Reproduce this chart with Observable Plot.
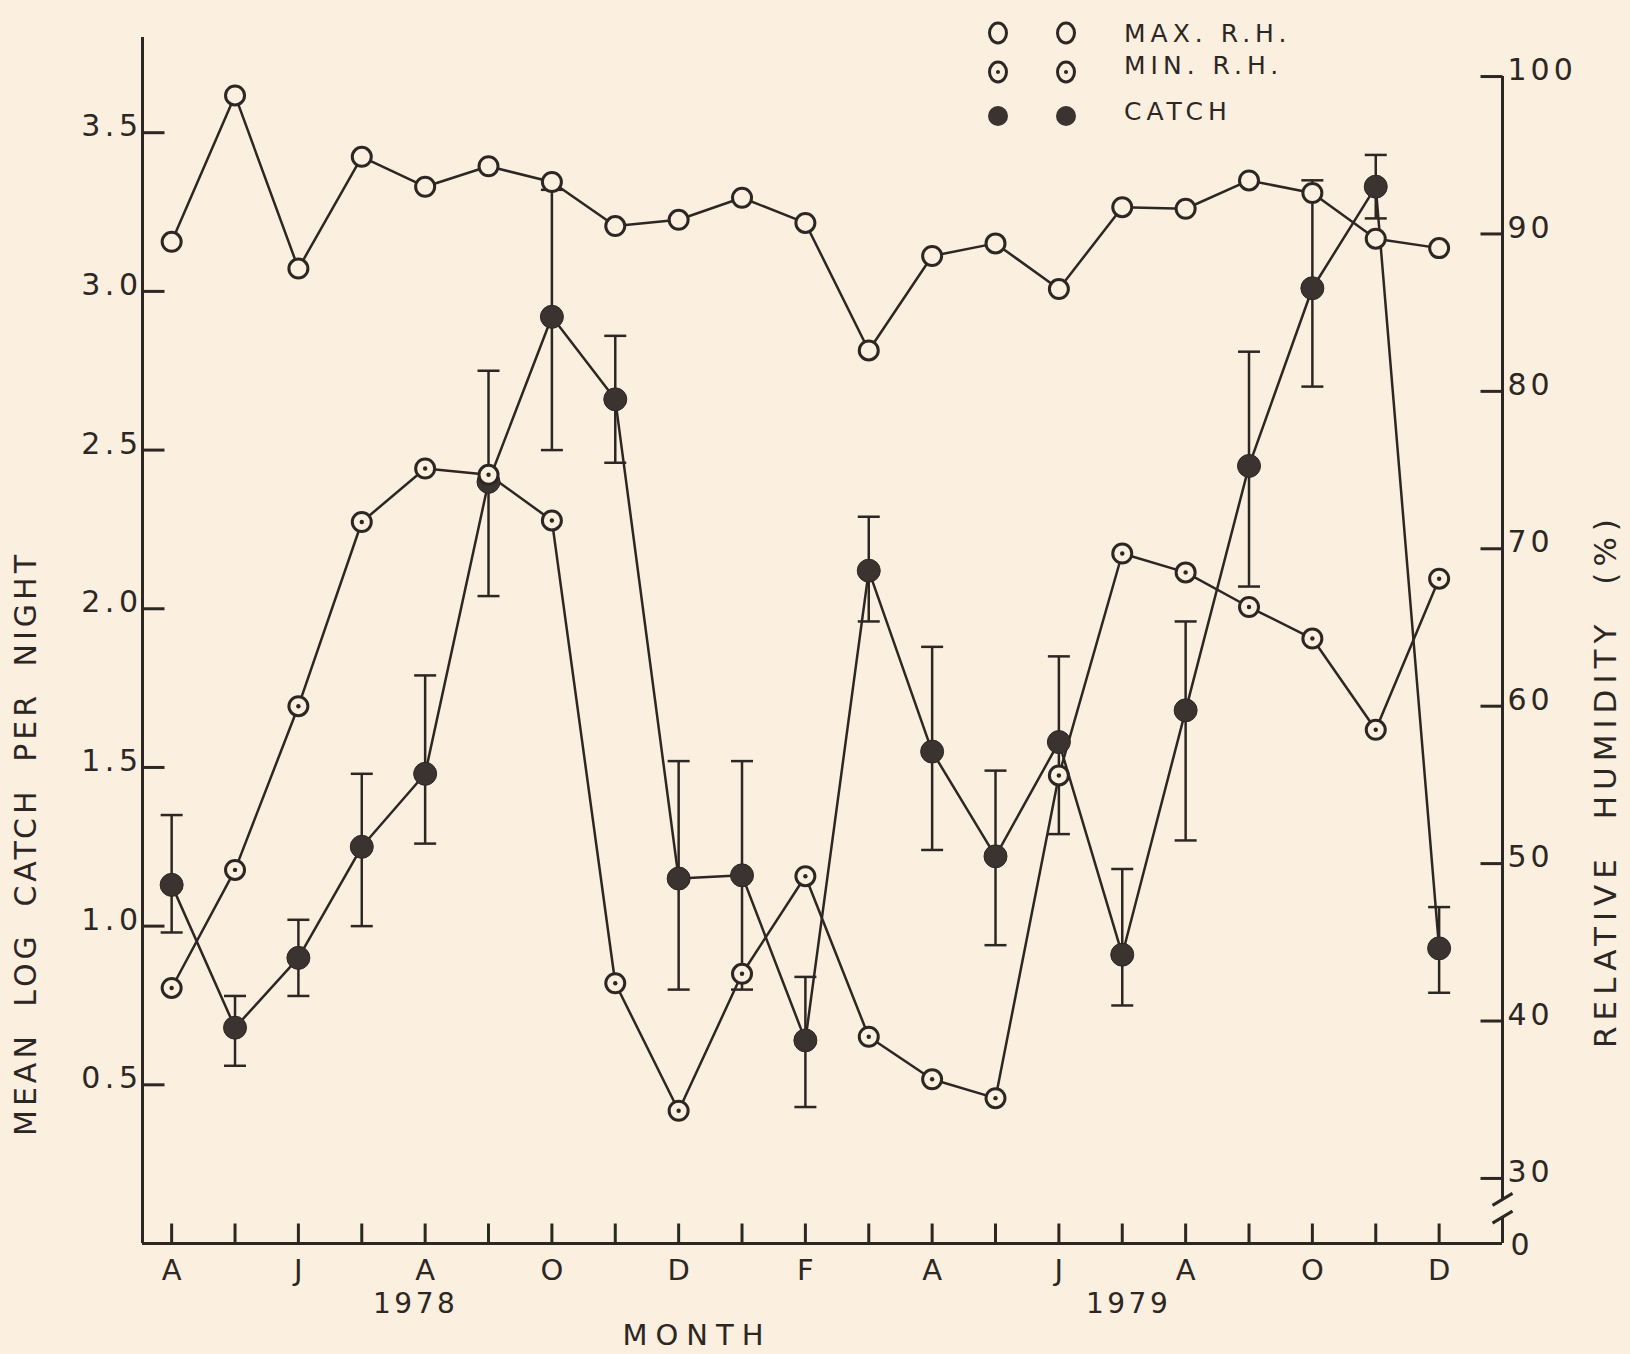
<!DOCTYPE html>
<html>
<head>
<meta charset="utf-8">
<script src="https://cdn.jsdelivr.net/npm/d3@7"></script>
<script src="https://cdn.jsdelivr.net/npm/@observablehq/plot@0.6"></script>
<style>
  html, body { margin: 0; padding: 0; background: #fbefdf; }
  #wrap { position: relative; width: 1630px; height: 1354px; overflow: hidden; }
  #legend { position: absolute; left: 0; top: 0; pointer-events: none; }
</style>
</head>
<body>
<div id="wrap">
  <div id="chart"></div>
  <svg id="legend" width="1630" height="150"></svg>
</div>
<script>
// ---------------- data ----------------
// months Apr 1978 .. Dec 1979 (index 0..20)
const monthLabels = ["A","","J","","A","","O","","D","","F","","A","","J","","A","","O","","D"];
const maxRH = [89.5, 98.8, 87.8, 94.9, 93.0, 94.3, 93.3, 90.5, 90.9, 92.3, 90.7, 82.6, 88.6, 89.4, 86.5, 91.7, 91.6, 93.4, 92.6, 89.7, 89.1];
const minRH = [42.1, 49.6, 60.0, 71.7, 75.1, 74.7, 71.8, 42.4, 34.3, 43.0, 49.2, 39.0, 36.3, 35.1, 55.6, 69.7, 68.5, 66.3, 64.3, 58.5, 68.1];
const catchMean  = [1.13, 0.68, 0.90, 1.25, 1.48, 2.40, 2.92, 2.66, 1.15, 1.16, 0.64, 2.12, 1.55, 1.22, 1.58, 0.91, 1.68, 2.45, 3.01, 3.33, 0.93];
const catchUpper = [1.35, 0.78, 1.02, 1.48, 1.79, 2.75, 3.32, 2.86, 1.52, 1.52, 0.84, 2.29, 1.88, 1.49, 1.85, 1.18, 1.96, 2.81, 3.35, 3.43, 1.06];
const catchLower = [0.98, 0.56, 0.78, 1.00, 1.26, 2.04, 2.50, 2.46, 0.80, 0.80, 0.43, 1.96, 1.24, 0.94, 1.29, 0.75, 1.27, 2.07, 2.70, 3.23, 0.79];
const leftTicks  = [0.5, 1.0, 1.5, 2.0, 2.5, 3.0, 3.5];
const rightTicks = [30, 40, 50, 60, 70, 80, 90, 100];
const yearLabels = ["1978", "1979"];
const yearAt = [3.85, 15.1];
const legendLabels = ["MAX. R.H.", "MIN. R.H.", "CATCH"];
const xTitle = "MONTH";
const yTitle = "MEAN LOG CATCH PER NIGHT";
const y2Title = "RELATIVE HUMIDITY (%)";

// ---------------- layout / style ----------------
const ink = "#2d2724";
const bg = "#fbefdf";
const dotFill = "#3a3330";
const xDomain = [-0.46, 21.0];
const yDomain = [0, 3.8];
// right axis (relative humidity) expressed in left-axis units
const rhToY = rh => 0.205 + (rh - 30) * 0.0496;
const breakHigh = 0.139, breakLow = 0.083;
const monthTitleAt = 8.29;

const rows = monthLabels.map((m, i) => ({
  i, label: m, maxRH: maxRH[i], minRH: minRH[i],
  c: catchMean[i], hi: catchUpper[i], lo: catchLower[i]
}));

const hLine = (a, b) => ({draw(ctx) { ctx.moveTo(a, 0); ctx.lineTo(b, 0); }});
const vLine = (a, b) => ({draw(ctx) { ctx.moveTo(0, a); ctx.lineTo(0, b); }});
const slash = {draw(ctx) { ctx.moveTo(-10, 6); ctx.lineTo(10, -6); }};

const font = "DejaVu Sans";

const chart = Plot.plot({
  width: 1630, height: 1354,
  marginLeft: 142, marginRight: 128, marginTop: 37, marginBottom: 111,
  x: {domain: xDomain, axis: null},
  y: {domain: yDomain, axis: null},
  style: {background: bg, color: ink, fontFamily: font},
  marks: [
    // axis lines
    Plot.ruleX([xDomain[0]], {stroke: ink, strokeWidth: 3}),
    Plot.ruleY([0], {stroke: ink, strokeWidth: 3}),
    Plot.ruleX([{x: xDomain[1], y1: breakHigh, y2: rhToY(100)}, {x: xDomain[1], y1: 0, y2: breakLow}],
      {x: "x", y1: "y1", y2: "y2", stroke: ink, strokeWidth: 3}),
    Plot.dot([breakHigh, breakLow], {y: d => d, frameAnchor: "right", symbol: slash, fill: "none", stroke: ink, strokeWidth: 3}),
    // left ticks
    Plot.dot(leftTicks, {y: d => d, frameAnchor: "left", symbol: hLine(0, 22), fill: "none", stroke: ink, strokeWidth: 3}),
    Plot.text(leftTicks, {y: d => d, text: d => d.toFixed(1), frameAnchor: "left", textAnchor: "end", lineAnchor: "middle",
      dx: 0, dy: -6, fontSize: 30, fill: ink}),
    // right ticks
    Plot.dot(rightTicks, {y: rhToY, frameAnchor: "right", symbol: hLine(-22, 0), fill: "none", stroke: ink, strokeWidth: 3}),
    Plot.text(rightTicks, {y: rhToY, text: d => String(d), frameAnchor: "right", textAnchor: "start", lineAnchor: "middle",
      dx: 5, dy: -6, fontSize: 30, fill: ink}),
    Plot.text([0], {y: d => d, text: d => String(d), frameAnchor: "right", textAnchor: "start", lineAnchor: "middle",
      dx: 8, dy: 2, fontSize: 30, fill: ink}),
    // bottom ticks + labels
    Plot.dot(rows, {x: "i", frameAnchor: "bottom", symbol: vLine(-20, 0), fill: "none", stroke: ink, strokeWidth: 3}),
    Plot.text(rows.filter(d => d.label), {x: "i", text: "label", frameAnchor: "bottom", lineAnchor: "middle", dy: 27,
      fontSize: 29, fill: ink}),
    Plot.text(yearLabels, {x: (d, i) => yearAt[i], text: d => d, frameAnchor: "bottom", lineAnchor: "middle", dy: 61,
      fontSize: 28, fill: ink}),
    // titles
    Plot.text([xTitle], {x: () => monthTitleAt, text: d => d, frameAnchor: "bottom", lineAnchor: "middle", dy: 92,
      fontSize: 29, fill: ink}),
    Plot.text([yTitle], {text: d => d, frameAnchor: "left", textAnchor: "middle", lineAnchor: "middle", rotate: -90,
      dx: -116, dy: 203, fontSize: 30, fill: ink}),
    Plot.text([y2Title], {text: d => d, frameAnchor: "right", textAnchor: "middle", lineAnchor: "middle", rotate: -90,
      dx: 104, dy: 140, fontSize: 31, fill: ink}),
    // series lines
    Plot.line(rows, {x: "i", y: d => rhToY(d.maxRH), stroke: ink, strokeWidth: 2.5}),
    Plot.line(rows, {x: "i", y: d => rhToY(d.minRH), stroke: ink, strokeWidth: 2.5}),
    Plot.line(rows, {x: "i", y: "c", stroke: ink, strokeWidth: 2.5}),
    // error bars
    Plot.ruleX(rows, {x: "i", y1: "lo", y2: "hi", stroke: ink, strokeWidth: 2.5}),
    Plot.dot(rows, {x: "i", y: "hi", symbol: hLine(-11, 11), fill: "none", stroke: ink, strokeWidth: 2.5}),
    Plot.dot(rows, {x: "i", y: "lo", symbol: hLine(-11, 11), fill: "none", stroke: ink, strokeWidth: 2.5}),
    // points
    Plot.dot(rows, {x: "i", y: "c", r: 11.5, fill: dotFill, stroke: ink, strokeWidth: 1}),
    Plot.dot(rows, {x: "i", y: d => rhToY(d.maxRH), r: 9.5, fill: bg, stroke: ink, strokeWidth: 3}),
    Plot.dot(rows, {x: "i", y: d => rhToY(d.minRH), r: 9.5, fill: bg, stroke: ink, strokeWidth: 3}),
    Plot.dot(rows, {x: "i", y: d => rhToY(d.minRH), r: 2.2, fill: ink, stroke: "none"})
  ]
});
document.getElementById("chart").append(chart);

// letter spacing for the typewriter-like lettering
const leftTickText = new Set(leftTicks.map(d => d.toFixed(1)));
const rightTickText = new Set(rightTicks.map(String).concat(["0"]));
d3.select(chart).selectAll("text").each(function() {
  const t = this.textContent;
  const s = d3.select(this);
  if (leftTickText.has(t)) s.attr("letter-spacing", "4.5px");
  else if (rightTickText.has(t)) s.attr("letter-spacing", "4px");
  else if (yearLabels.includes(t)) s.attr("letter-spacing", "3.5px");
  else if (t === xTitle) s.attr("letter-spacing", "8px");
  else if (t === yTitle) s.attr("letter-spacing", "4px").attr("word-spacing", "12px");
  else if (t === y2Title) s.attr("letter-spacing", "6px").attr("word-spacing", "18px");
});

// ---------------- legend ----------------
const lg = d3.select("#legend");
const legendRows = [
  {label: legendLabels[0], kind: "open", sy: 33, ty: 33},
  {label: legendLabels[1], kind: "dot", sy: 72, ty: 65},
  {label: legendLabels[2], kind: "fill", sy: 116, ty: 111}
];
for (const r of legendRows) {
  for (const cx of [998, 1066]) {
    if (r.kind === "fill") {
      lg.append("circle").attr("cx", cx).attr("cy", r.sy).attr("r", 10).attr("fill", dotFill);
    } else {
      lg.append("ellipse").attr("cx", cx).attr("cy", r.sy).attr("rx", 8.5).attr("ry", 10)
        .attr("fill", "none").attr("stroke", ink).attr("stroke-width", 3);
      if (r.kind === "dot") lg.append("circle").attr("cx", cx).attr("cy", r.sy).attr("r", 2).attr("fill", ink);
    }
  }
  lg.append("text").attr("x", 1124).attr("y", r.ty).attr("dy", "0.36em")
    .attr("font-family", font).attr("font-size", 25).attr("letter-spacing", "5px")
    .attr("fill", ink).text(r.label);
}
</script>
</body>
</html>
